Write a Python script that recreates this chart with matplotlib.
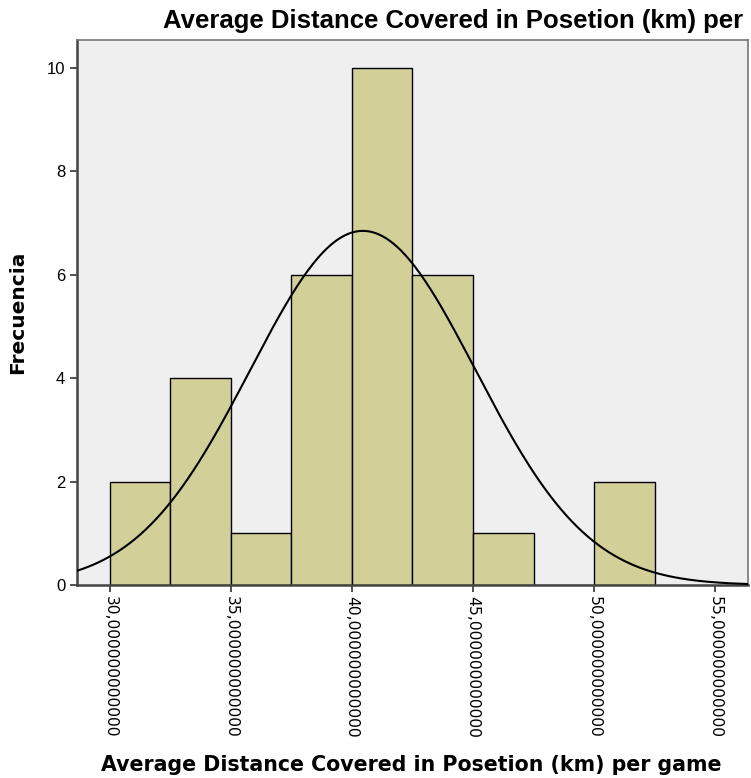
import numpy as np
import matplotlib
matplotlib.use("Agg")
import matplotlib.pyplot as plt

# histogram data
bin_edges = [30.0, 32.5, 35.0, 37.5, 40.0, 42.5, 45.0, 47.5, 50.0, 52.5]
counts = [2, 4, 1, 6, 10, 6, 1, 0, 2]
x_ticks = [30, 35, 40, 45, 50, 55]
y_ticks = [0, 2, 4, 6, 8, 10]
curve_mean = 40.45
curve_sd = 4.66

title = "Average Distance Covered in Posetion (km) per"
x_label = "Average Distance Covered in Posetion (km) per game"
y_label = "Frecuencia"

fig = plt.figure(figsize=(7.51, 7.78), dpi=100)
ax = fig.add_axes([0.1025, 0.248, 0.8935, 0.7006])
ax.set_facecolor('#efefef')

widths = np.diff(bin_edges)
ax.bar(bin_edges[:-1], counts, width=widths, align='edge',
       color='#d3cf99', edgecolor='black', linewidth=1.0, zorder=2)

# normal curve scaled to counts
n = sum(counts)
bw = widths[0]
xs = np.linspace(28.0, 57.0, 400)
ys = n * bw / (curve_sd * np.sqrt(2 * np.pi)) * np.exp(-0.5 * ((xs - curve_mean) / curve_sd) ** 2)
ax.plot(xs, ys, color='black', linewidth=1.5, zorder=3)

ax.set_xlim(28.64, 56.36)
ax.set_ylim(0, 10.54)
ax.set_xticks(x_ticks)
ax.set_xticklabels([f"{v},000000000000" for v in x_ticks], rotation=-90,
                   fontsize=11.2, family='DejaVu Sans')
ax.set_yticks(y_ticks)
ax.set_yticklabels([str(v) for v in y_ticks], fontsize=12, family='Liberation Sans')
ax.tick_params(axis='both', direction='out', length=5, width=1.2, color='#333333')
ax.tick_params(axis='x', pad=3)
for side in ['left', 'bottom']:
    ax.spines[side].set_color('#444444')
    ax.spines[side].set_linewidth(1.8)
for side in ['top', 'right']:
    ax.spines[side].set_color('#777777')
    ax.spines[side].set_linewidth(1.2)

fig.text(163 / 751, 1 - 28 / 778, title, ha='left', va='baseline',
         fontsize=18.5, fontweight='bold', family='Liberation Sans')
fig.text(411 / 751, 1 - 765 / 778, x_label, ha='center', va='center',
         fontsize=14.8, fontweight='bold', family='DejaVu Sans')
fig.text(18 / 751, 1 - 312 / 778, y_label, ha='center', va='center', rotation=90,
         fontsize=14.5, fontweight='bold', family='DejaVu Sans')

fig.savefig("out.png", dpi=100)
